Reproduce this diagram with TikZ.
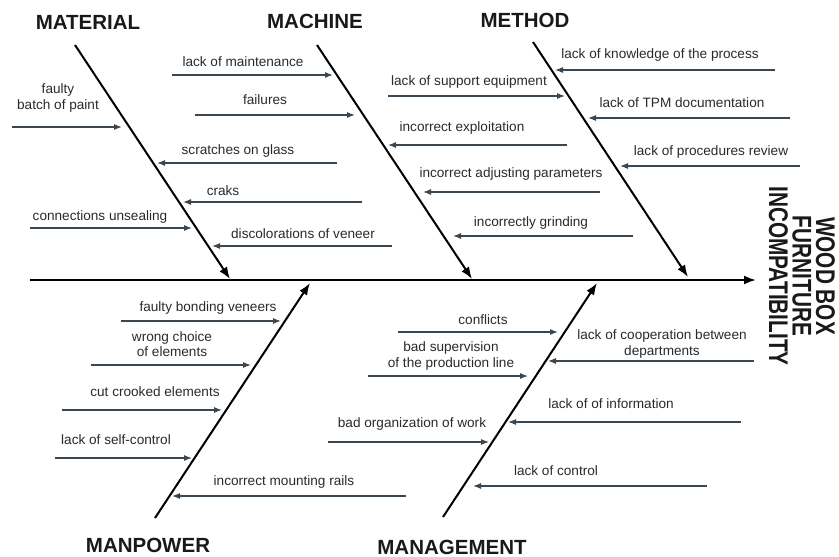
\documentclass[tikz,border=0pt]{standalone}
\usepackage{fontspec}
\setmainfont{Liberation Sans}
\usepackage{graphicx}
\usetikzlibrary{arrows.meta}

\definecolor{ink}{HTML}{2A2A2A}
\definecolor{causeline}{HTML}{3A4650}

\tikzset{
  bone/.style={line width=2pt, -{Latex[length=12pt, width=9pt]}},
  causearrow/.style={line width=1.1pt, causeline, -{Latex[length=8pt, width=6pt]}},
  lbl/.style={text=ink, font=\fontsize{13.6}{15.5}\selectfont, align=center, inner sep=0pt},
  cathead/.style={text=black!90, font=\fontsize{20.5}{24}\selectfont\bfseries, inner sep=0pt}
}

\begin{document}
\begin{tikzpicture}[x=1pt, y=-1pt]

  \useasboundingbox (0,0) rectangle (839,557);

  % Spine and effect
  \coordinate (spine-start) at (30,280);
  \coordinate (spine-end) at (756,280);
  \draw[bone] (spine-start) -- (spine-end);
  \node[rotate=-90, align=center, text=black!90,
        font=\fontsize{27}{23.5}\selectfont\bfseries] (effect) at (802,276)
    {\scalebox{0.77}[1]{WOOD BOX}\\\scalebox{0.77}[1]{FURNITURE}\\\scalebox{0.77}[1]{INCOMPATIBILITY}};

  % Category headers
  \node[cathead] (material) at (88,22) {MATERIAL};
  \node[cathead] (machine) at (315,21) {MACHINE};
  \node[cathead] (method) at (525,20) {METHOD};
  \node[cathead] (manpower) at (148,545) {MANPOWER};
  \node[cathead] (management) at (452,547) {MANAGEMENT};

  % Bones
  \coordinate (material-top) at (75,45);   \coordinate (material-end) at (230,279);
  \coordinate (machine-top) at (317,45);   \coordinate (machine-end) at (472,279);
  \coordinate (method-top) at (533,42);    \coordinate (method-end) at (688,277);
  \coordinate (manpower-low) at (155,518); \coordinate (manpower-end) at (310,283);
  \coordinate (management-low) at (443,517); \coordinate (management-end) at (597,283);
  \draw[bone] (material-top) -- (material-end);
  \draw[bone] (machine-top) -- (machine-end);
  \draw[bone] (method-top) -- (method-end);
  \draw[bone] (manpower-low) -- (manpower-end);
  \draw[bone] (management-low) -- (management-end);

  % Causes: name / from x / to x / y
  \foreach \nm/\xa/\xb/\yy in {
      paint/12/122/127, scratch/337/157/163, craks/362/183/202,
      unsealing/30/192/228, veneer/392/212/246,
      maint/172/333/75, failures/195/355/115, exploit/567/388/145,
      adjust/600/423/192, grinding/633/453/236,
      knowledge/775/555/70, support/388/565/96, tpm/790/588/118, review/800/620/166,
      bonding/121/281/321, choice/91/251/365, crooked/62/222/410,
      selfctrl/55/192/458, rails/406/172/496,
      conflicts/398/558/332, supervision/368/528/376, organization/328/489/442,
      cooperation/754/548/361, information/741/508/422, control/707/473/486}{
    \coordinate (\nm-s) at (\xa,\yy);
    \coordinate (\nm-e) at (\xb,\yy);
    \draw[causearrow] (\nm-s) -- (\nm-e);
  }

  % Material
  \node[lbl] (paint) at (58,98) {faulty\\batch of paint};
  \node[lbl] (scratch) at (238,151) {scratches on glass};
  \node[lbl] (craks) at (223,191) {craks};
  \node[lbl] (unsealing) at (100,217) {connections unsealing};
  \node[lbl] (veneer) at (303,234) {discolorations of veneer};

  % Machine
  \node[lbl] (maint) at (243,62) {lack of maintenance};
  \node[lbl] (failures) at (265,100) {failures};
  \node[lbl] (exploit) at (462,128) {incorrect exploitation};
  \node[lbl] (adjust) at (511,174) {incorrect adjusting parameters};
  \node[lbl] (grinding) at (531,223) {incorrectly grinding};

  % Method
  \node[lbl] (knowledge) at (660,55) {lack of knowledge of the process};
  \node[lbl] (support) at (469,82) {lack of support equipment};
  \node[lbl] (tpm) at (682,103) {lack of TPM documentation};
  \node[lbl] (review) at (711,152) {lack of procedures review};

  % Manpower
  \node[lbl] (bonding) at (208,308) {faulty bonding veneers};
  \node[lbl] (choice) at (172,344) {wrong choice\\of elements};
  \node[lbl] (crooked) at (155,392) {cut crooked elements};
  \node[lbl] (selfctrl) at (116,440) {lack of self-control};
  \node[lbl] (rails) at (284,482) {incorrect mounting rails};

  % Management
  \node[lbl] (conflicts) at (483,320) {conflicts};
  \node[lbl] (supervision) at (451,356) {bad supervision\\of the production line};
  \node[lbl] (organization) at (412,424) {bad organization of work};
  \node[lbl] (cooperation) at (662,344) {lack of cooperation between\\departments};
  \node[lbl] (information) at (611,404) {lack of of information};
  \node[lbl] (control) at (556,471) {lack of control};

\end{tikzpicture}
\end{document}
